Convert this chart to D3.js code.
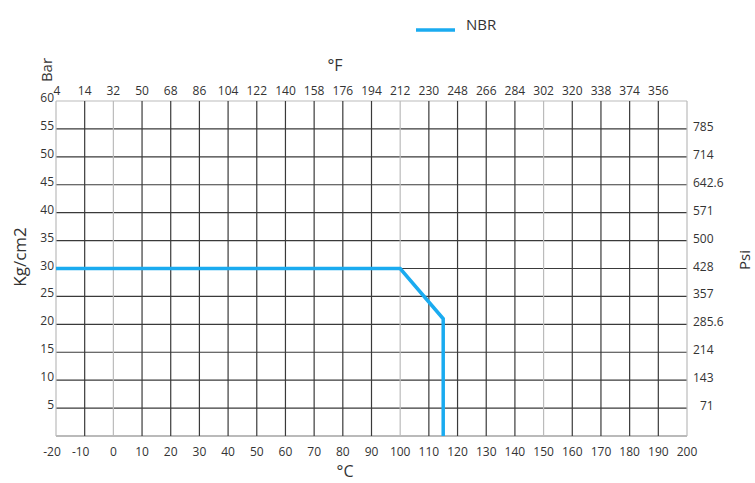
<!DOCTYPE html>
<html>
<head>
<meta charset="utf-8">
<script src="https://cdn.jsdelivr.net/npm/d3@7"></script>
<style>
  body { margin: 0; background: #fff; }
  svg { display: block; font-family: "Open Sans", sans-serif; }
  text { fill: #333; }
</style>
</head>
<body>
<svg width="755" height="483"></svg>
<script>
// chart values
var celsiusTicks = [-20, -10, 0, 10, 20, 30, 40, 50, 60, 70, 80, 90, 100, 110, 120, 130, 140, 150, 160, 170, 180, 190, 200];
var fahrenheitLabels = ["4", "14", "32", "50", "68", "86", "104", "122", "140", "158", "176", "194", "212", "230", "248", "266", "284", "302", "320", "338", "374", "356"];
var barTicks = [5, 10, 15, 20, 25, 30, 35, 40, 45, 50, 55, 60];
var psiLabels = ["71", "143", "214", "285.6", "357", "428", "500", "571", "642.6", "714", "785"];
var lightCols = [-20, 0, 100, 150, 200];
var nbrCelsius = [-20, 100, 115, 115];
var nbrBar = [30, 30, 21, 0];

var svg = d3.select("svg");

var x = d3.scaleLinear().domain([-20, 200]).range([56, 687]);
var y = d3.scaleLinear().domain([0, 60]).range([436, 101]);

// grid - horizontal
svg.append("g").selectAll("line")
    .data([0].concat(barTicks))
    .enter().append("line")
    .attr("x1", x(-20)).attr("x2", x(200))
    .attr("y1", function(d) { return y(d); })
    .attr("y2", function(d) { return y(d); })
    .attr("stroke", function(d) { return d === 60 ? "#bbb" : (d === 0 ? "#777" : "#3a3a3a"); })
    .attr("stroke-width", 1.2);

// grid - vertical
svg.append("g").selectAll("line")
    .data(celsiusTicks)
    .enter().append("line")
    .attr("y1", y(0)).attr("y2", y(60))
    .attr("x1", function(d) { return x(d); })
    .attr("x2", function(d) { return x(d); })
    .attr("stroke", function(d) { return lightCols.indexOf(d) >= 0 ? "#bbb" : "#3a3a3a"; })
    .attr("stroke-width", 1.2);

// bottom celsius labels
svg.append("g").selectAll("text")
    .data(celsiusTicks)
    .enter().append("text")
    .attr("x", function(d) { return x(d) - (d < 0 ? 4 : 0); })
    .attr("y", 456)
    .attr("text-anchor", "middle")
    .attr("font-size", 12)
    .text(function(d) { return d; });

// top fahrenheit labels
svg.append("g").selectAll("text")
    .data(fahrenheitLabels)
    .enter().append("text")
    .attr("x", function(d, i) { return x(celsiusTicks[i]) + (i === 0 ? 1 : 0); })
    .attr("y", 95)
    .attr("text-anchor", "middle")
    .attr("font-size", 12)
    .text(function(d) { return d; });

// left bar labels
svg.append("g").selectAll("text")
    .data(barTicks)
    .enter().append("text")
    .attr("x", 54)
    .attr("y", function(d) { return y(d) + 1; })
    .attr("text-anchor", "end")
    .attr("font-size", 12)
    .text(function(d) { return d; });

// right psi labels
svg.append("g").selectAll("text")
    .data(psiLabels)
    .enter().append("text")
    .attr("x", function(d) { return d === "71" ? 700 : 693; })
    .attr("y", function(d, i) { return y(barTicks[i]) + 2; })
    .attr("font-size", 12)
    .text(function(d) { return d; });

// NBR line
var line = d3.line()
    .x(function(d) { return x(d[0]); })
    .y(function(d) { return y(d[1]); });

svg.append("path")
    .datum(nbrCelsius.map(function(c, i) { return [c, nbrBar[i]]; }))
    .attr("d", line)
    .attr("fill", "none")
    .attr("stroke", "#1aabf0")
    .attr("stroke-width", 3.5);

// axis titles
svg.append("text")
    .attr("transform", "translate(52,70) rotate(-90)")
    .attr("text-anchor", "middle")
    .attr("font-size", 15)
    .text("Bar");

svg.append("text")
    .attr("x", 335).attr("y", 71)
    .attr("text-anchor", "middle")
    .attr("font-size", 16)
    .text("°F");

svg.append("text")
    .attr("x", 345).attr("y", 477)
    .attr("text-anchor", "middle")
    .attr("font-size", 16)
    .text("°C");

svg.append("text")
    .attr("transform", "translate(26,257) rotate(-90)")
    .attr("text-anchor", "middle")
    .attr("font-size", 17)
    .text("Kg/cm2");

svg.append("text")
    .attr("transform", "translate(750,260) rotate(-90)")
    .attr("text-anchor", "middle")
    .attr("font-size", 15)
    .text("Psi");

// legend
svg.append("line")
    .attr("x1", 416).attr("x2", 455)
    .attr("y1", 30).attr("y2", 30)
    .attr("stroke", "#1aabf0")
    .attr("stroke-width", 3.5);

svg.append("text")
    .attr("x", 466).attr("y", 30)
    .attr("font-size", 15)
    .text("NBR");
</script>
</body>
</html>
